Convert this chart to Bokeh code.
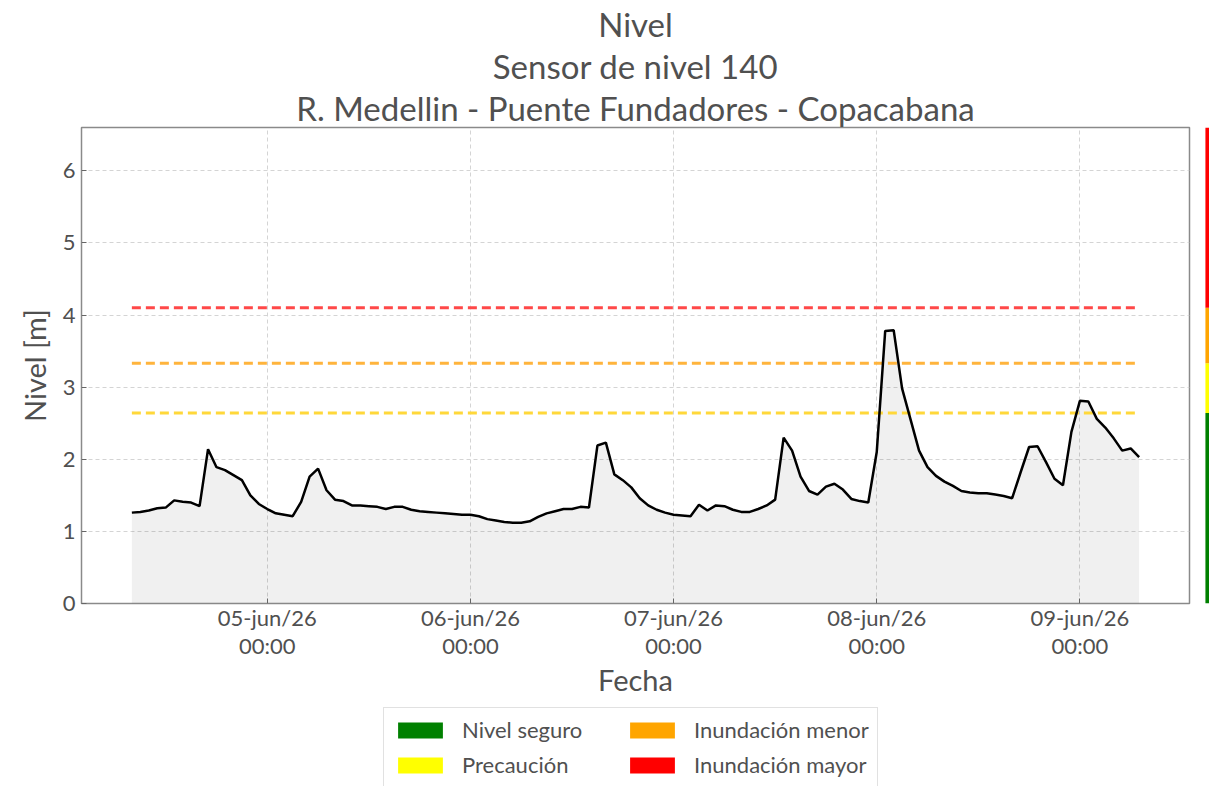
import pandas as pd
from bokeh.plotting import figure
from bokeh.models import Range1d, FixedTicker, Legend, LegendItem, ColumnDataSource, Title
from bokeh.layouts import row, column
from bokeh.embed import file_html
from bokeh.resources import INLINE

# ---------------- data ----------------
start_time = "2026-06-04 08:00"
levels = [
    1.26, 1.27, 1.29, 1.32, 1.33, 1.43, 1.41, 1.40, 1.35, 2.14,
    1.89, 1.85, 1.78, 1.71, 1.50, 1.38, 1.31, 1.25, 1.23, 1.21,
    1.41, 1.76, 1.87, 1.57, 1.44, 1.42, 1.36, 1.36, 1.35, 1.34,
    1.31, 1.34, 1.34, 1.30, 1.28, 1.27, 1.26, 1.25, 1.24, 1.23,
    1.23, 1.21, 1.17, 1.15, 1.13, 1.12, 1.12, 1.14, 1.20, 1.25,
    1.28, 1.31, 1.31, 1.34, 1.33, 2.19, 2.23, 1.79, 1.71, 1.61,
    1.46, 1.36, 1.30, 1.26, 1.23, 1.22, 1.21, 1.37, 1.29, 1.36,
    1.35, 1.30, 1.27, 1.27, 1.31, 1.36, 1.44, 2.30, 2.12, 1.76,
    1.56, 1.51, 1.62, 1.66, 1.58, 1.45, 1.42, 1.40, 2.10, 3.78,
    3.79, 2.98, 2.55, 2.12, 1.89, 1.77, 1.69, 1.63, 1.56, 1.54,
    1.53, 1.53, 1.51, 1.49, 1.46, 1.82, 2.17, 2.18, 1.96, 1.73,
    1.64, 2.38, 2.81, 2.80, 2.56, 2.44, 2.29, 2.12, 2.15, 2.03,
]
times = pd.date_range(start_time, periods=len(levels), freq="h")

band_names = ["Nivel seguro", "Precaución", "Inundación menor", "Inundación mayor"]
band_colors = ["#008000", "#ffff00", "#ffa500", "#ff0000"]
thresholds = [2.64, 3.33, 4.10]
threshold_colors = ["#ffd83a", "#ffb43c", "#ff4848"]
y_max = 6.6
y_ticks = [0, 1, 2, 3, 4, 5, 6]

tick_dates = ["2026-06-05", "2026-06-06", "2026-06-07", "2026-06-08", "2026-06-09"]
tick_labels = ["05-jun/26\n00:00", "06-jun/26\n00:00", "07-jun/26\n00:00",
               "08-jun/26\n00:00", "09-jun/26\n00:00"]

title_lines = ["Nivel", "Sensor de nivel 140", "R. Medellin - Puente Fundadores - Copacabana"]

# ---------------- styling ----------------
FONT = "Lato"
TXT = "#505050"

span = times[-1] - times[0]
x_start = (times[0] - 0.05 * span).to_pydatetime()
x_end = (times[-1] + 0.05 * span).to_pydatetime()

p = figure(width=1192, height=707, x_axis_type="datetime",
           x_range=Range1d(x_start, x_end), y_range=Range1d(0, y_max),
           output_backend="svg", toolbar_location=None,
           min_border_left=81, min_border_right=3,
           min_border_top=127, min_border_bottom=104)

p.title.visible = False
for line in reversed(title_lines):
    p.add_layout(Title(text=line, align="center", text_font=FONT, text_font_size="33px",
                       text_font_style="normal", text_color=TXT, standoff=0), "above")

p.outline_line_color = "#8a8a8a"
p.outline_line_width = 1.5

tick_ms = [pd.Timestamp(d).value / 1e6 for d in tick_dates]
p.xaxis.ticker = FixedTicker(ticks=tick_ms)
p.xaxis.major_label_overrides = {t: l for t, l in zip(tick_ms, tick_labels)}
p.yaxis.ticker = FixedTicker(ticks=y_ticks)

for ax in (p.xaxis[0], p.yaxis[0]):
    ax.axis_line_color = None
    ax.major_tick_in = 5
    ax.major_tick_out = 0
    ax.minor_tick_line_color = None
    ax.major_tick_line_color = "#666666"
    ax.major_label_text_font = FONT
    ax.major_label_text_font_size = "22px"
    ax.major_label_text_color = TXT
    ax.axis_label_text_font = FONT
    ax.axis_label_text_font_size = "29px"
    ax.axis_label_text_font_style = "normal"
    ax.axis_label_text_color = TXT

p.xaxis.axis_label = "Fecha"
p.yaxis.axis_label = "Nivel [m]"
p.xaxis.major_label_standoff = 0
p.xaxis.major_label_text_line_height = 1.05
p.xaxis.axis_label_standoff = 0
p.yaxis.major_label_standoff = 6
p.yaxis.axis_label_standoff = 8

p.grid.grid_line_color = "#d4d4d4"
p.grid.grid_line_dash = "4 3"
p.grid.grid_line_width = 1

src = ColumnDataSource(dict(t=times, lvl=levels))
p.varea(x="t", y1=0, y2="lvl", source=src, fill_color="#000000", fill_alpha=0.06)

for v, c in zip(thresholds, threshold_colors):
    p.line(x=[times[0], times[-1]], y=[v, v], line_color=c, line_width=3,
           line_dash="9 5")

p.line(x="t", y="lvl", source=src, line_color="black", line_width=2.5)

bottoms = [0] + thresholds
tops = thresholds + [y_max]

# ---------------- side colour bar ----------------
b = figure(width=17, height=707, x_range=Range1d(0, 1), y_range=p.y_range,
           output_backend="svg", toolbar_location=None,
           x_axis_location=None, y_axis_location=None,
           min_border_left=0, min_border_right=0,
           min_border_top=127, min_border_bottom=104)
b.grid.visible = False
b.outline_line_color = None
b.quad(left=0.76, right=1, bottom=bottoms, top=tops, fill_color=band_colors, line_color=None)

# ---------------- legend (own small figure) ----------------
lg = figure(width=510, height=79, x_range=Range1d(0, 1), y_range=Range1d(0, y_max),
            output_backend="svg", toolbar_location=None,
            x_axis_location=None, y_axis_location=None,
            min_border_left=0, min_border_right=0, min_border_top=0, min_border_bottom=0,
            margin=(0, 0, 0, 383))
lg.grid.visible = False
lg.outline_line_color = None
items = []
for name, col, lo in zip(band_names, band_colors, bottoms):
    r = lg.quad(left=[0], right=[0], top=[lo], bottom=[lo],
                fill_color=col, line_color=None)
    items.append(LegendItem(label=name, renderers=[r]))

legend = Legend(items=items, location="top_left", orientation="vertical", ncols=2,
                glyph_width=56, glyph_height=20, label_standoff=14, label_width=154,
                spacing=8, padding=8, margin=0,
                label_text_font=FONT, label_text_font_size="22px", label_text_color=TXT,
                border_line_color="#c4c4c4", border_line_width=1.2,
                background_fill_color="white", background_fill_alpha=1.0)
lg.add_layout(legend, "center")

layout = column(row(p, b), lg)
open("out.html", "w").write(file_html(layout, INLINE))
